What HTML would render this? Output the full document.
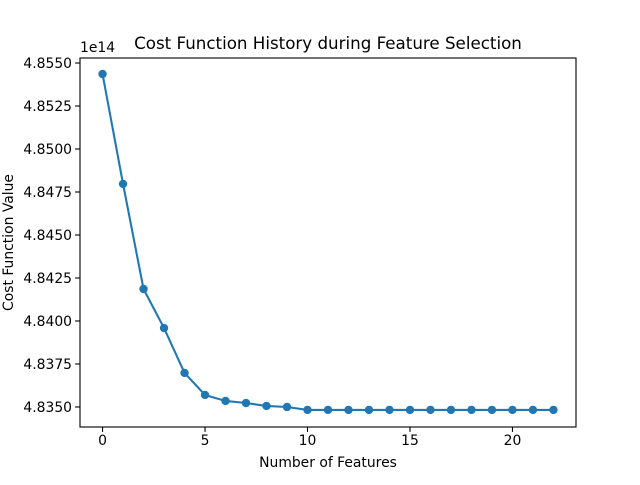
<!DOCTYPE html>
<html><head><meta charset="utf-8"><style>
body{margin:0;background:#fff;}
text{font-family:"DejaVu Sans","Liberation Sans",sans-serif;}
</style></head><body>
<svg id="chart" width="640" height="480" xmlns="http://www.w3.org/2000/svg">
<rect width="640" height="480" fill="#fff"/>
<g id="plot"></g>
</svg>
<script>
const xValues=[0,1,2,3,4,5,6,7,8,9,10,11,12,13,14,15,16,17,18,19,20,21,22];
const costValues=[4.85436,4.84797,4.84186,4.83959,4.83698,4.83570,4.83535,4.83523,4.83506,4.83500,4.83483,4.83483,4.83483,4.83483,4.83483,4.83483,4.83483,4.83483,4.83483,4.83483,4.83483,4.83483,4.83483];
const xTicks=[0,5,10,15,20];
const yTicks=[4.8350,4.8375,4.8400,4.8425,4.8450,4.8475,4.8500,4.8525,4.8550];
const L=80,R=576,T=58,B=427;
const xmin=-1.1,xmax=23.1,ymin=4.833836,ymax=4.855291;
const sx=v=>L+(v-xmin)/(xmax-xmin)*(R-L);
const sy=v=>B-(v-ymin)/(ymax-ymin)*(B-T);
const NS="http://www.w3.org/2000/svg";
const g=document.getElementById('plot');
function mk(t,a,txt){const e=document.createElementNS(NS,t);for(const k in a)e.setAttribute(k,a[k]);if(txt!==undefined)e.textContent=txt;g.appendChild(e);return e;}
xTicks.forEach(v=>{const x=sx(v);
 let l=mk('line',{x1:x,x2:x,y1:B,y2:B+4.9,stroke:'#000','stroke-width':1.1});
 
 
 let t=mk('text',{x:x,y:B+18,'font-size':13.9,'text-anchor':'middle'},String(v));
 
 
});
yTicks.forEach(v=>{const y=sy(v);
 let l=mk('line',{x1:L-4.9,x2:L,y1:y,y2:y,stroke:'#000','stroke-width':1.1});
 
 
 let t=mk('text',{x:L-8,y:y+5,'font-size':13.9,'text-anchor':'end'},v.toFixed(4));
 
 
});
let pts=xValues.map((x,i)=>sx(x)+','+sy(costValues[i])).join(' ');
let line=mk('polyline',{points:pts,fill:'none',stroke:'#1f77b4','stroke-width':2.08});


xValues.forEach((x,i)=>{let c=mk('circle',{cx:sx(x),cy:sy(costValues[i]),r:4.2,fill:'#1f77b4'});
 
 
});
let fr=mk('rect',{x:L,y:T,width:R-L,height:B-T,fill:'none',stroke:'#000','stroke-width':1.1});


let off=mk('text',{x:L,y:T-6,'font-size':13.9},'1e14');


let ti=mk('text',{x:(L+R)/2,y:T-9,'font-size':16.7,'text-anchor':'middle'},'Cost Function History during Feature Selection');


let xl=mk('text',{x:(L+R)/2,y:467,'font-size':13.9,'text-anchor':'middle'},'Number of Features');


let yl=mk('text',{x:0,y:0,'font-size':13.9,'text-anchor':'middle',transform:'translate(13,'+((T+B)/2)+') rotate(-90)'},'Cost Function Value');


</script>
</body></html>
